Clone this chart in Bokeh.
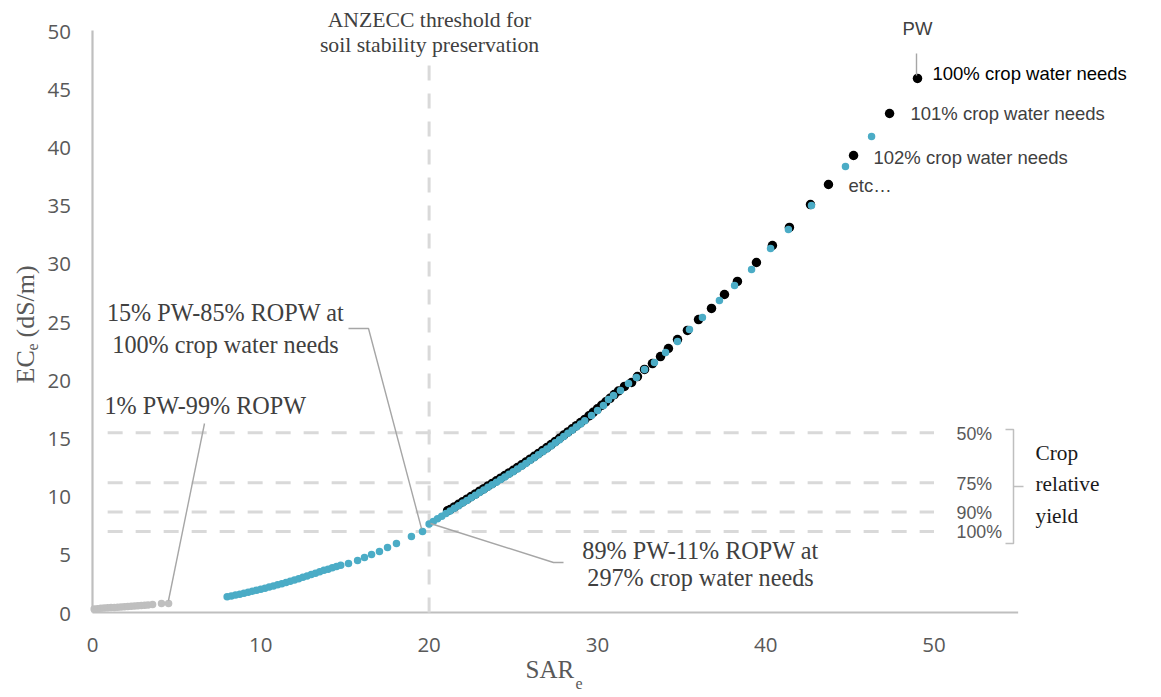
import math
from bokeh.plotting import figure
from bokeh.models import Range1d, FixedTicker, Label
from bokeh.embed import file_html
from bokeh.resources import INLINE

# ---------------- data ----------------
x_ticks = [0, 10, 20, 30, 40, 50]
y_ticks = [0, 5, 10, 15, 20, 25, 30, 35, 40, 45, 50]

# 1% PW - 99% ROPW series (grey)
grey_sar = [0.1, 0.3, 0.5, 0.7, 0.9, 1.1, 1.3, 1.5, 1.7, 1.9, 2.1, 2.3, 2.5, 2.7,
            2.9, 3.1, 3.3, 3.57, 4.1, 4.52]
grey_ec = [0.30, 0.33, 0.36, 0.38, 0.40, 0.42, 0.44, 0.46, 0.48, 0.50, 0.52, 0.54,
           0.56, 0.58, 0.60, 0.62, 0.64, 0.69, 0.77, 0.78]

# blended water at 100% crop water needs (blue, lower branch)
blue_low_sar = [8.0, 8.25, 8.5, 8.75, 9.0, 9.25, 9.5, 9.75, 10.0, 10.25, 10.5, 10.75,
                11.0, 11.25, 11.5, 11.75, 12.0, 12.25, 12.5, 12.75, 13.0, 13.25, 13.5,
                13.75, 14.0, 14.25, 14.5, 14.75, 15.21, 15.75, 16.16, 16.58, 17.05,
                17.53, 18.06, 18.95, 19.61]
blue_low_ec = [1.35, 1.42, 1.50, 1.57, 1.65, 1.73, 1.82, 1.91, 2.00, 2.09, 2.18, 2.28,
               2.38, 2.48, 2.58, 2.69, 2.80, 2.91, 3.03, 3.14, 3.26, 3.38, 3.50, 3.62,
               3.72, 3.84, 3.95, 4.05, 4.21, 4.47, 4.73, 4.98, 5.24, 5.58, 5.93, 6.53,
               6.96]

# 89% PW - 11% ROPW at decreasing crop water needs (blue, upper branch)
blue_up_sar = [20.0, 20.25, 20.5, 20.75, 21.0, 21.25, 21.5, 21.75, 22.0, 22.25, 22.5,
               22.75, 23.0, 23.25, 23.5, 23.75, 24.0, 24.25, 24.5, 24.75, 25.0, 25.25,
               25.5, 25.75, 26.0, 26.25, 26.5, 26.75, 27.0, 27.25, 27.5, 27.75, 28.0,
               28.25, 28.5, 28.75, 29.0, 29.25, 29.65, 30.01, 30.36, 30.66, 30.96,
               31.37, 31.85, 32.32, 32.80, 33.39, 34.05, 34.76, 35.47, 36.24, 37.25,
               38.15, 39.16, 40.29, 41.35, 42.72, 44.74, 46.29]
blue_up_ec = [7.60, 7.82, 8.05, 8.27, 8.50, 8.72, 8.95, 9.17, 9.40, 9.62, 9.85, 10.07,
              10.30, 10.52, 10.75, 10.97, 11.20, 11.42, 11.65, 11.87, 12.10, 12.33,
              12.57, 12.81, 13.05, 13.30, 13.55, 13.80, 14.05, 14.31, 14.58, 14.85,
              15.12, 15.39, 15.66, 15.93, 16.20, 16.47, 16.92, 17.35, 17.78, 18.30,
              18.64, 19.07, 19.67, 20.19, 20.88, 21.48, 22.34, 23.28, 24.31, 25.34,
              26.80, 28.09, 29.47, 31.27, 32.90, 34.97, 38.32, 40.89]

# PW at 100%, 101%, 102% ... crop water needs (black)
pw_sar = [21.1, 21.25, 21.5, 21.75, 22.0, 22.25, 22.5, 22.75, 23.0, 23.25, 23.5, 23.75,
          24.0, 24.25, 24.5, 24.75, 25.0, 25.25, 25.5, 25.75, 26.0, 26.25, 26.5, 26.75,
          27.0, 27.25, 27.5, 27.75, 28.0, 28.25, 28.5, 28.75, 29.0, 29.25, 29.5, 29.75,
          30.0, 30.25, 30.5, 30.75, 31.0, 31.25, 31.61, 32.03, 32.38, 32.80, 33.27,
          33.75, 34.22, 34.76, 35.35, 36.01, 36.78, 37.55, 38.32, 39.45, 40.40, 41.41,
          42.66, 43.73, 45.22, 47.36, 49.02]
pw_ec = [8.75, 8.85, 9.07, 9.29, 9.52, 9.74, 9.97, 10.19, 10.42, 10.64, 10.87, 11.09,
         11.32, 11.54, 11.77, 11.99, 12.22, 12.45, 12.69, 12.93, 13.17, 13.42, 13.67,
         13.92, 14.17, 14.43, 14.70, 14.97, 15.24, 15.51, 15.78, 16.05, 16.32, 16.59,
         16.90, 17.20, 17.50, 17.80, 18.10, 18.40, 18.72, 19.03, 19.42, 19.76, 20.27,
         20.88, 21.39, 21.99, 22.68, 23.45, 24.23, 25.17, 26.12, 27.32, 28.44, 30.07,
         31.53, 33.08, 35.05, 36.77, 39.26, 42.87, 45.88]

# crop relative yield thresholds
yield_labels = ["50%", "75%", "90%", "100%"]
yield_ece = [15.44, 11.14, 8.63, 6.96]
sar_threshold = 20

# ---------------- layout helpers (canvas px -> data) ----------------
W, H = 1145, 692

def X(px):
    return (px - 92) / 16.83

def Y(py):
    return (612 - py) / 11.64

p = figure(frame_width=W, frame_height=H,
           x_range=Range1d(X(0), X(W)), y_range=Range1d(Y(H), Y(0)),
           x_axis_location="above", y_axis_location="right",
           output_backend="svg", toolbar_location=None, min_border=0)
p.grid.visible = False
p.outline_line_color = None
p.background_fill_color = "white"

for ax in (p.xaxis, p.yaxis):
    ax.fixed_location = 0
    ax.axis_line_color = None
    ax.major_tick_line_color = None
    ax.minor_tick_line_color = None
    ax.major_tick_out = 0
    ax.major_tick_in = 0
    ax.major_label_text_font = "Open Sans"
    ax.major_label_text_font_size = "20.5px"
    ax.major_label_text_color = "#595959"
p.xaxis.major_label_standoff = -39
p.yaxis.major_label_standoff = -45
p.xaxis.ticker = FixedTicker(ticks=x_ticks)
p.yaxis.ticker = FixedTicker(ticks=y_ticks)
p.yaxis.major_label_overrides = {0: "\u20070", 5: "\u20075"}

AX = "#bfbfbf"
LEAD = "#a6a6a6"
DASH = "#d9d9d9"

# axis lines
p.line([0, 55], [0, 0], line_color=AX, line_width=2.2)
p.line([0, 0], [0, 50], line_color=AX, line_width=2.2)

# threshold dashed lines
for e in yield_ece:
    p.line([0.9, 50], [e, e], line_color=DASH, line_width=3, line_dash="15 13")
p.line([sar_threshold, sar_threshold], [0, 47], line_color=DASH, line_width=3,
       line_dash="15 13")

# data points
p.scatter(grey_sar, grey_ec, size=7.5, color="#bfbfbf", line_color=None)
p.scatter(pw_sar, pw_ec, size=9.5, color="#000000", line_color=None)
p.scatter(blue_low_sar, blue_low_ec, size=7.5, color="#4bacc6", line_color=None)
p.scatter(blue_up_sar, blue_up_ec, size=7.5, color="#4bacc6", line_color=None)

# leader lines
def lead(pts):
    p.line([X(a) for a, b in pts], [Y(b) for a, b in pts], line_color=LEAD, line_width=1.4)

lead([(916, 53), (916, 75)])
lead([(348, 328), (368, 328), (421, 528)])
lead([(204, 423), (168, 600)])
lead([(430, 523), (553, 562), (563, 562)])

# bracket
p.line([X(1005), X(1013), X(1013), X(1005)], [Y(429), Y(429), Y(543), Y(543)],
       line_color=AX, line_width=1.5)
p.line([X(1013), X(1023)], [Y(486), Y(486)], line_color=AX, line_width=1.5)

SERIF = "Liberation Serif"
SANS = "Liberation Sans"

def lab(text, px, py, size, font, color, align="left", angle=0.0, baseline="middle"):
    p.add_layout(Label(x=X(px), y=Y(py), text=text, text_font=font,
                       text_font_size=size, text_color=color, text_align=align,
                       text_baseline=baseline, angle=angle))

lab("ANZECC threshold for", 429, 19, "21.7px", SERIF, "#404040", "center")
lab("soil stability preservation", 429, 44, "21.7px", SERIF, "#404040", "center")

lab("PW", 917, 28, "18.5px", SANS, "#404040", "center")
lab("100% crop water needs", 932, 73, "18.5px", SANS, "#000000")
lab("101% crop water needs", 910, 113, "18.5px", SANS, "#404040")
lab("102% crop water needs", 873, 157, "18.5px", SANS, "#404040")
lab("etc\u2026", 848, 185, "18.5px", SANS, "#404040")

lab("15% PW-85% ROPW at", 225, 312, "24.2px", SERIF, "#404040", "center")
lab("100% crop water needs", 225, 344, "24.2px", SERIF, "#404040", "center")
lab("1% PW-99% ROPW", 104, 405, "24.2px", SERIF, "#404040")
lab("89% PW-11% ROPW at", 700, 550, "24.2px", SERIF, "#404040", "center")
lab("297% crop water needs", 700, 577, "24.2px", SERIF, "#404040", "center")

for t, e in zip(yield_labels, yield_ece):
    lab(t, 956, 612 - e * 11.64 + 1, "17.8px", SANS, "#595959")

lab("Crop", 1035, 452, "21.3px", SERIF, "#1a1a1a")
lab("relative", 1035, 483, "21.3px", SERIF, "#1a1a1a")
lab("yield", 1035, 515, "21.3px", SERIF, "#1a1a1a")

# axis titles
lab("SAR", 525, 669, "25px", SERIF, "#595959")
lab("e", 575, 683, "16px", SERIF, "#595959")
lab("EC", 25, 383, "26px", SERIF, "#595959", angle=math.pi / 2)
lab("e", 32, 350, "16px", SERIF, "#595959", angle=math.pi / 2)
lab("(dS/m)", 25, 337, "26px", SERIF, "#595959", angle=math.pi / 2)

open("out.html", "w").write(file_html(p, INLINE))
